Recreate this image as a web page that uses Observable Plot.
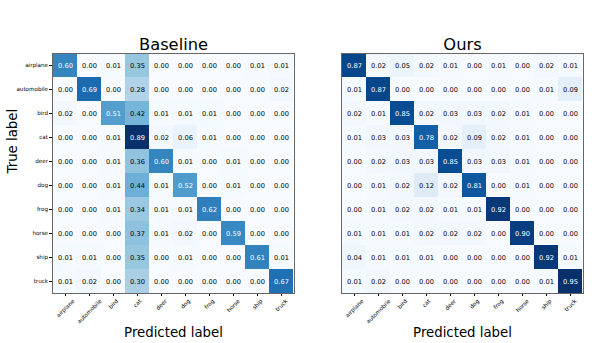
<!DOCTYPE html>
<html>
<head>
<meta charset="utf-8">
<script src="https://cdn.jsdelivr.net/npm/d3@7"></script>
<script src="https://cdn.jsdelivr.net/npm/@observablehq/plot@0.6"></script>
<style>
  html, body { margin: 0; padding: 0; background: white; }
  #wrap { display: flex; width: 598px; height: 343px; }
  #wrap svg { display: block; }
</style>
</head>
<body>
<div id="wrap"></div>
<script>
const classes = ["airplane", "automobile", "bird", "cat", "deer", "dog", "frog", "horse", "ship", "truck"];

const baseline = [
  [0.60, 0.00, 0.01, 0.35, 0.00, 0.00, 0.00, 0.00, 0.01, 0.01],
  [0.00, 0.69, 0.00, 0.28, 0.00, 0.00, 0.00, 0.00, 0.00, 0.02],
  [0.02, 0.00, 0.51, 0.42, 0.01, 0.01, 0.01, 0.00, 0.00, 0.00],
  [0.00, 0.00, 0.01, 0.89, 0.02, 0.06, 0.01, 0.00, 0.00, 0.00],
  [0.00, 0.00, 0.01, 0.36, 0.60, 0.01, 0.00, 0.01, 0.00, 0.00],
  [0.00, 0.00, 0.01, 0.44, 0.01, 0.52, 0.00, 0.01, 0.00, 0.00],
  [0.00, 0.00, 0.01, 0.34, 0.01, 0.01, 0.62, 0.00, 0.00, 0.00],
  [0.00, 0.00, 0.00, 0.37, 0.01, 0.02, 0.00, 0.59, 0.00, 0.00],
  [0.01, 0.01, 0.00, 0.35, 0.00, 0.01, 0.00, 0.00, 0.61, 0.01],
  [0.01, 0.02, 0.00, 0.30, 0.00, 0.00, 0.00, 0.00, 0.00, 0.67]
];

const ours = [
  [0.87, 0.02, 0.05, 0.02, 0.01, 0.00, 0.01, 0.00, 0.02, 0.01],
  [0.01, 0.87, 0.00, 0.00, 0.00, 0.00, 0.00, 0.00, 0.01, 0.09],
  [0.02, 0.01, 0.85, 0.02, 0.03, 0.03, 0.02, 0.01, 0.00, 0.00],
  [0.01, 0.03, 0.03, 0.78, 0.02, 0.09, 0.02, 0.01, 0.00, 0.00],
  [0.00, 0.02, 0.03, 0.03, 0.85, 0.03, 0.03, 0.01, 0.00, 0.00],
  [0.00, 0.01, 0.02, 0.12, 0.02, 0.81, 0.00, 0.01, 0.00, 0.00],
  [0.00, 0.01, 0.02, 0.02, 0.01, 0.01, 0.92, 0.00, 0.00, 0.00],
  [0.01, 0.01, 0.01, 0.02, 0.02, 0.02, 0.00, 0.90, 0.00, 0.00],
  [0.04, 0.01, 0.01, 0.01, 0.00, 0.00, 0.00, 0.00, 0.92, 0.01],
  [0.01, 0.02, 0.00, 0.00, 0.00, 0.00, 0.00, 0.00, 0.01, 0.95]
];

const titles = ["Baseline", "Ours"];
const xLabel = "Predicted label";
const yLabel = "True label";
const blues = ["#f7fbff", "#deebf7", "#c6dbef", "#9ecae1", "#6baed6", "#4292c6", "#2171b5", "#08519c", "#08306b"];

const FONT = "DejaVu Sans";
const tickFont = 5.6;
const ctx = document.createElement("canvas").getContext("2d");
ctx.font = `${tickFont}px "${FONT}"`;

function toTable(m) {
  const rows = [];
  m.forEach((r, i) => r.forEach((v, j) => rows.push({truth: classes[i], pred: classes[j], value: v})));
  return rows;
}

function matrix(m, title, showY, marginLeft, marginRight) {
  const data = toTable(m);
  const max = d3.max(data, d => d.value);
  const thresh = max / 2;
  // rotated x tick labels, centered under each tick like matplotlib (ha=center, va=top)
  const xTickLabels = classes.map(c => {
    const L = ctx.measureText(c).width;
    const h = tickFont * 0.9;
    return Plot.text([c], {
      x: d => d, frameAnchor: "bottom", rotate: -45, textAnchor: "middle", lineAnchor: "middle",
      dy: 5 + (L + h) / (2 * Math.SQRT2), fontSize: tickFont, fill: "black"
    });
  });
  return Plot.plot({
    width: 299, height: 343,
    marginTop: 53, marginBottom: 50, marginLeft, marginRight,
    style: {fontFamily: FONT, fontSize: tickFont + "px", background: "white", color: "black"},
    x: {domain: classes, padding: 0, tickSize: 3, tickFormat: () => "", label: null},
    y: {domain: classes, padding: 0, tickSize: 3, tickPadding: 1.5, label: null, axis: showY ? "left" : null},
    color: {type: "linear", domain: blues.map((_, i) => max * i / (blues.length - 1)), range: blues},
    marks: [
      Plot.cell(data, {x: "pred", y: "truth", fill: "value", inset: 0}),
      Plot.text(data.filter(d => d.value > thresh), {x: "pred", y: "truth", text: d => d.value.toFixed(2), fill: "white", fontSize: 6.7}),
      Plot.text(data.filter(d => d.value <= thresh), {x: "pred", y: "truth", text: d => d.value.toFixed(2), fill: "black", fontSize: 6.7}),
      Plot.frame({stroke: "#666", strokeWidth: 1}),
      ...xTickLabels,
      Plot.text([title], {frameAnchor: "top", dy: -4, lineAnchor: "bottom", fontSize: 16.3, fill: "black"}),
      Plot.text([xLabel], {frameAnchor: "bottom", dy: 43, lineAnchor: "bottom", fontSize: 13.3, fill: "black"}),
      showY ? Plot.text([yLabel], {frameAnchor: "left", dx: -40, rotate: -90, fontSize: 13.3, fill: "black"}) : null
    ]
  });
}

const wrap = document.getElementById("wrap");
wrap.append(matrix(baseline, titles[0], true, 52, 5));
wrap.append(matrix(ours, titles[1], false, 42, 15));
</script>
</body>
</html>
